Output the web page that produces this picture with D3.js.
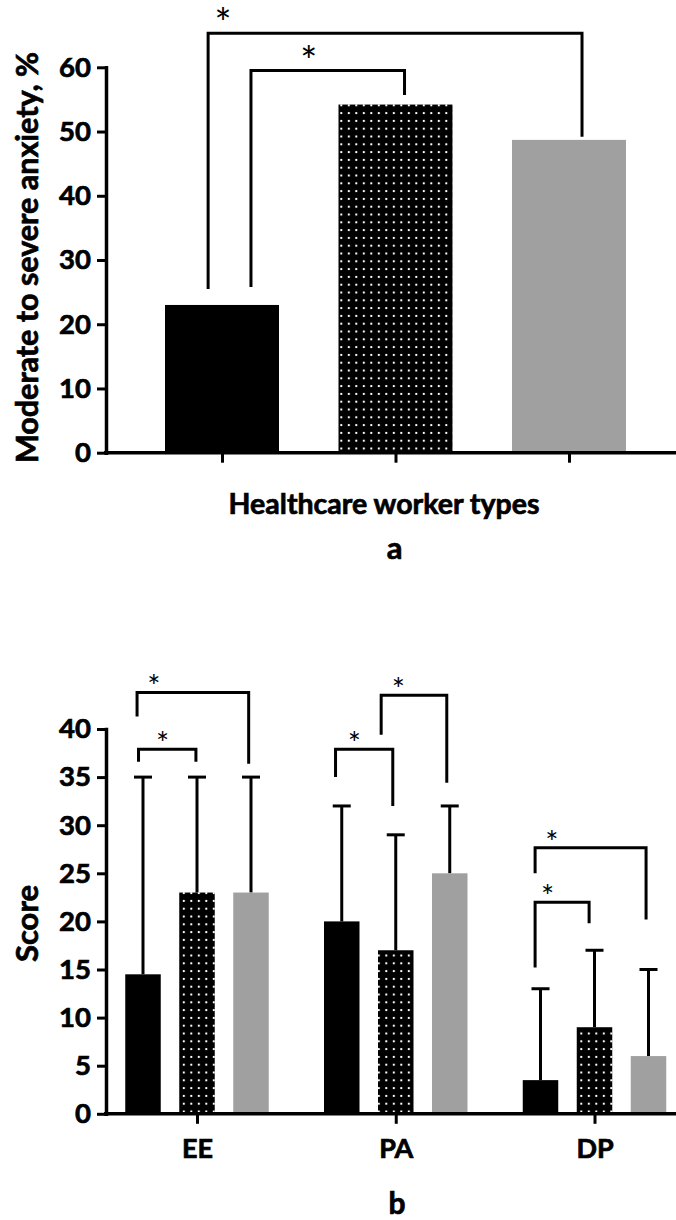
<!DOCTYPE html>
<html><head><meta charset="utf-8">
<script src="https://cdn.jsdelivr.net/npm/d3@7"></script>
<style>
body{margin:0;background:#fff}
svg{display:block}
text{font-family:Lato,"Open Sans",sans-serif}
.heavy{font-weight:bold;stroke:#000;stroke-width:0.7px;paint-order:stroke}
</style>
</head><body>
<svg id="c" width="676" height="1220"></svg>
<script>
// ---------- DATA ----------
const workerTypes = ["Worker type 1", "Worker type 2", "Worker type 3"];
// panel a
const anxietyPct = [23.0, 54.2, 48.7];
const anxietyTicks = [0, 10, 20, 30, 40, 50, 60];
// bracket ends in bar-index units, heights in % units
const anxietyBrackets = [
  {from: -0.08, to: 2.075, top: 65.3, leftEnd: 25.5, rightEnd: 49.2, star: 0.04, label: "*"},
  {from: 0.167, to: 1.052, top: 59.5, leftEnd: 25.8, rightEnd: 55.7, star: 0.377, label: "*"}
];
// panel b
const dimensions = ["EE", "PA", "DP"];
const scoreType1 = [14.5, 20, 3.5];
const scoreType2 = [23, 17, 9];
const scoreType3 = [23, 25, 6];
const upperType1 = [35, 32, 13];
const upperType2 = [35, 29, 17];
const upperType3 = [35, 32, 15];
const scoreTicks = [0, 5, 10, 15, 20, 25, 30, 35, 40];
const scoreBrackets = [
  {group: "EE", from: -0.11, to: 1.957, top: 43.8, leftEnd: 41.3, rightEnd: 36.4, star: 0.15, label: "*"},
  {group: "EE", from: -0.083, to: 0.98, top: 37.9, leftEnd: 36.6, rightEnd: 36.6, star: 0.42, label: "*"},
  {group: "PA", from: -0.115, to: 0.945, top: 37.9, leftEnd: 35.0, rightEnd: 32.0, star: 0.33, label: "*"},
  {group: "PA", from: 0.73, to: 1.945, top: 43.5, leftEnd: 39.4, rightEnd: 34.4, star: 0.26, label: "*"},
  {group: "DP", from: -0.10, to: 1.955, top: 27.65, leftEnd: 25.0, rightEnd: 20.2, star: 0.15, label: "*"},
  {group: "DP", from: -0.10, to: 0.90, top: 22.0, leftEnd: 15.2, rightEnd: 19.8, star: 0.23, label: "*"}
];

// ---------- STYLE ----------
const fills = ["#000", "url(#dots)", "#a0a0a0"];
const svg = d3.select("#c");
const defs = svg.append("defs");
const pat = defs.append("pattern").attr("id", "dots")
  .attr("patternUnits", "userSpaceOnUse").attr("width", 7.5).attr("height", 7.8);
pat.append("rect").attr("width", 7.5).attr("height", 7.8).attr("fill", "#000");
pat.append("rect").attr("x", 2.8).attr("y", 2.9).attr("width", 2).attr("height", 2).attr("fill", "#fff");

function styleAxis(g, fs) {
  g.select(".domain").attr("stroke", "#000").attr("stroke-width", 3.5).attr("stroke-linecap", "square");
  g.selectAll(".tick line").attr("stroke", "#000").attr("stroke-width", 3);
  g.selectAll(".tick text").attr("class", "heavy").attr("fill", "#000").style("font-size", fs + "px");
}
function drawBracket(g, x0, x1, yTop, yL, yR, starFrac, label, fs, gap) {
  g.append("path")
    .attr("d", `M${x0},${yL}V${yTop}H${x1}V${yR}`)
    .attr("fill", "none").attr("stroke", "#000").attr("stroke-width", 3);
  g.append("text").attr("x", x0 + starFrac * (x1 - x0)).attr("y", yTop - gap)
    .attr("text-anchor", "middle").style("font-size", fs + "px").text(label);
}

// ---------- PANEL A ----------
const gA = svg.append("g");
const yA = d3.scaleLinear().domain([0, 60]).range([452.7, 67.3]);
const xA = d3.scalePoint().domain(workerTypes).range([222, 569]);
const barWA = 114;

gA.selectAll("rect.bar").data(workerTypes).join("rect").attr("class", "bar")
  .attr("x", d => xA(d) - barWA / 2)
  .attr("y", (d, i) => yA(anxietyPct[i]))
  .attr("width", barWA)
  .attr("height", (d, i) => yA(0) - yA(anxietyPct[i]))
  .attr("fill", (d, i) => fills[i]);

const axA = gA.append("g").attr("transform", "translate(106,0)")
  .call(d3.axisLeft(yA).tickValues(anxietyTicks).tickSize(9).tickSizeOuter(0).tickPadding(6));
styleAxis(axA, 27.5);
const axAx = gA.append("g").attr("transform", `translate(0,${yA(0)})`)
  .call(d3.axisBottom(xA).tickSize(10).tickSizeOuter(0).tickFormat(""));
axAx.select(".domain").remove();
styleAxis(axAx, 27.5);
gA.append("line").attr("x1", 104).attr("x2", 676).attr("y1", yA(0)).attr("y2", yA(0))
  .attr("stroke", "#000").attr("stroke-width", 3.5);

anxietyBrackets.forEach(b => {
  const step = xA.step();
  const x0 = xA(workerTypes[0]) + b.from * step;
  const x1 = xA(workerTypes[0]) + b.to * step;
  drawBracket(gA, x0, x1, yA(b.top), yA(b.leftEnd), yA(b.rightEnd), b.star, b.label, 40, -5);
});

gA.append("text").attr("class", "heavy").attr("transform", "translate(37.5,257.5) rotate(-90)")
  .attr("text-anchor", "middle").style("font-size", "30.5px")
  .text("Moderate to severe anxiety, %");
gA.append("text").attr("class", "heavy").attr("x", 384).attr("y", 514).attr("text-anchor", "middle")
  .style("font-size", "28.5px").text("Healthcare worker types");
gA.append("text").attr("class", "heavy").attr("x", 394.5).attr("y", 559).attr("text-anchor", "middle")
  .style("font-size", "31px").text("a");

// ---------- PANEL B ----------
const gB = svg.append("g");
const yB = d3.scaleLinear().domain([0, 40]).range([1113.8, 729]);
const xB = d3.scalePoint().domain(dimensions).range([197, 594.5]);
const xIn = d3.scalePoint().domain(workerTypes).range([-54, 54]);
const barWB = 35.5;
const means = [scoreType1, scoreType2, scoreType3];
const uppers = [upperType1, upperType2, upperType3];
const cells = [];
dimensions.forEach((dim, j) => workerTypes.forEach((t, i) =>
  cells.push({dim, t, i, v: means[i][j], u: uppers[i][j]})));

// error bars
gB.selectAll("line.err").data(cells).join("line").attr("class", "err")
  .attr("x1", d => xB(d.dim) + xIn(d.t)).attr("x2", d => xB(d.dim) + xIn(d.t))
  .attr("y1", d => yB(d.v)).attr("y2", d => yB(d.u))
  .attr("stroke", "#000").attr("stroke-width", 3);
gB.selectAll("line.cap").data(cells).join("line").attr("class", "cap")
  .attr("x1", d => xB(d.dim) + xIn(d.t) - 9).attr("x2", d => xB(d.dim) + xIn(d.t) + 9)
  .attr("y1", d => yB(d.u)).attr("y2", d => yB(d.u))
  .attr("stroke", "#000").attr("stroke-width", 3);

gB.selectAll("rect.bar").data(cells).join("rect").attr("class", "bar")
  .attr("x", d => xB(d.dim) + xIn(d.t) - barWB / 2)
  .attr("y", d => yB(d.v))
  .attr("width", barWB)
  .attr("height", d => yB(0) - yB(d.v))
  .attr("fill", d => fills[d.i]);

const axB = gB.append("g").attr("transform", "translate(106,0)")
  .call(d3.axisLeft(yB).tickValues(scoreTicks).tickSize(9).tickSizeOuter(0).tickPadding(6));
styleAxis(axB, 27.5);
const axBx = gB.append("g").attr("transform", `translate(0,${yB(0)})`)
  .call(d3.axisBottom(xB).tickSize(10).tickSizeOuter(0).tickPadding(15));
axBx.select(".domain").remove();
styleAxis(axBx, 27);
gB.append("line").attr("x1", 104).attr("x2", 676).attr("y1", yB(0)).attr("y2", yB(0))
  .attr("stroke", "#000").attr("stroke-width", 3.5);

scoreBrackets.forEach(b => {
  const base = xB(b.group) + xIn(workerTypes[0]);
  const step = xIn.step();
  const x0 = base + b.from * step;
  const x1 = base + b.to * step;
  drawBracket(gB, x0, x1, yB(b.top), yB(b.leftEnd), yB(b.rightEnd), b.star, b.label, 31, -5);
});

gB.append("text").attr("class", "heavy").attr("transform", "translate(38,923.5) rotate(-90)")
  .attr("text-anchor", "middle").style("font-size", "31px")
  .text("Score");
gB.append("text").attr("class", "heavy").attr("x", 397).attr("y", 1214).attr("text-anchor", "middle")
  .style("font-size", "30px").text("b");
</script>
</body></html>
